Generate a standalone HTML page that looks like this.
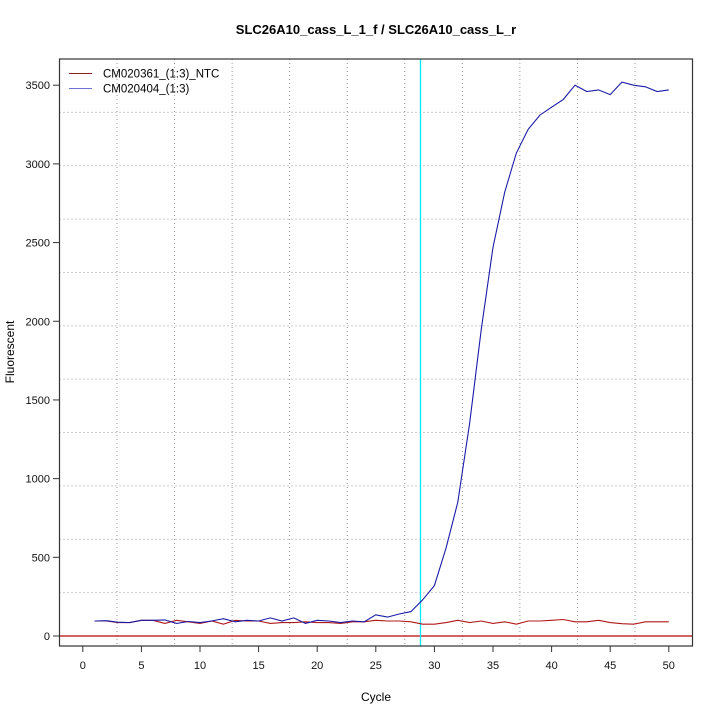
<!DOCTYPE html>
<html><head><meta charset="utf-8"><style>
body{margin:0;background:#fff}
svg{display:block;font-family:"Liberation Sans",sans-serif}
</style></head><body>
<svg id="s" width="720" height="720" xmlns="http://www.w3.org/2000/svg">
<rect width="720" height="720" fill="#fff"/>
<g id="grid" stroke="#999" stroke-width="1" stroke-dasharray="1,3"></g>
<line x1="59.5" y1="636" x2="692.5" y2="636" stroke="#c03030" stroke-width="1.6"/>
<line x1="420.5" y1="59" x2="420.5" y2="646" stroke="#00e5ff" stroke-width="1.3"/>
<polyline id="red" fill="none" stroke="#b01818" stroke-width="1.1"/>
<polyline id="blue" fill="none" stroke="#1a1aa8" stroke-width="1.1"/>
<rect x="59.5" y="59" width="633" height="587" fill="none" stroke="#333" stroke-width="1.2"/>
<g id="ticks" stroke="#333" stroke-width="1"></g>
<g id="labels" font-size="11" fill="#111"></g>
<text x="376" y="34" text-anchor="middle" font-size="13" font-weight="bold">SLC26A10_cass_L_1_f / SLC26A10_cass_L_r</text>
<text x="376" y="701" text-anchor="middle" font-size="12">Cycle</text>
<text transform="translate(14,352) rotate(-90)" text-anchor="middle" font-size="12">Fluorescent</text>
<line x1="69" y1="73.5" x2="92" y2="73.5" stroke="#8b2020"/>
<line x1="69" y1="88.5" x2="92" y2="88.5" stroke="#7070d0"/>
<text x="103" y="77.5" font-size="11.5">CM020361_(1:3)_NTC</text>
<text x="103" y="92.5" font-size="11.5">CM020404_(1:3)</text>
</svg>
<script>
var NS="http://www.w3.org/2000/svg";
function X(c){return 82.8+c*11.72}
function Y(v){return 636-v*0.15737}
function el(p,t,a){var e=document.createElementNS(NS,t);for(var k in a)e.setAttribute(k,a[k]);p.appendChild(e);return e}
var g=document.getElementById("grid"),tk=document.getElementById("ticks"),lb=document.getElementById("labels");
for(var k=1;k<=10;k++){var x=59.5+633/11*k;el(g,"line",{x1:x,y1:59,x2:x,y2:646});var y=646-587/11*k;el(g,"line",{x1:59.5,y1:y,x2:692.5,y2:y});}
for(var c=0;c<=50;c+=5){el(tk,"line",{x1:X(c),y1:646,x2:X(c),y2:652});var t=el(lb,"text",{x:X(c),y:669,"text-anchor":"middle"});t.textContent=c;}
for(var v=0;v<=3500;v+=500){el(tk,"line",{x1:53,y1:Y(v),x2:59.5,y2:Y(v)});var t=el(lb,"text",{x:50,y:Y(v)+4,"text-anchor":"end"});t.textContent=v;}
var b=[95,97,88,85,100,100,102,80,92,85,95,110,90,100,95,115,95,115,80,100,95,85,95,90,135,120,140,155,230,320,560,850,1350,1950,2470,2820,3070,3220,3310,3360,3410,3500,3460,3470,3440,3520,3500,3490,3460,3470];
var r=[95,95,85,85,100,100,80,100,90,80,95,75,100,95,95,80,85,85,90,85,85,80,90,90,100,95,95,90,75,75,85,100,85,95,80,90,75,95,95,100,105,90,90,100,85,78,75,90,90,90];
function pts(a){return a.map(function(v,i){return X(i+1).toFixed(1)+","+Y(v).toFixed(1)}).join(" ")}
document.getElementById("red").setAttribute("points",pts(r));
document.getElementById("blue").setAttribute("points",pts(b));
</script>
</body></html>
